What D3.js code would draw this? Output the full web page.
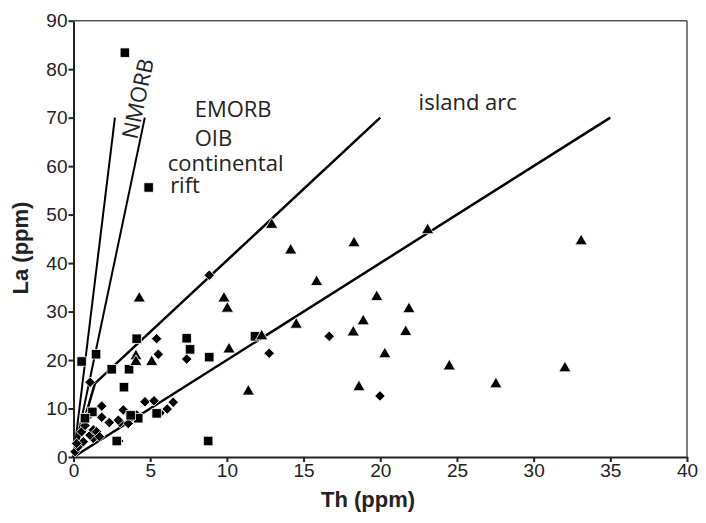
<!DOCTYPE html>
<html>
<head>
<meta charset="utf-8">
<script src="https://cdn.jsdelivr.net/npm/d3@7"></script>
<style>
  body { margin: 0; background: #fff; }
  .axis text { font-family: "Liberation Sans", Arial, sans-serif; font-size: 19px; fill: #222; }
  .note { font-family: "Open Sans", sans-serif; font-size: 22px; fill: #222; }
  .title { font-family: "Liberation Sans", Arial, sans-serif; font-weight: bold; font-size: 22px; fill: #222; }
</style>
</head>
<body>
<script>
// Th vs La (ppm) discrimination plot

// tick values
var xTicks = [0, 5, 10, 15, 20, 25, 30, 35, 40];
var yTicks = [0, 10, 20, 30, 40, 50, 60, 70, 80, 90];

// field boundary lines [Th, La]
var nmorbLeft = [[0, 0], [2.7, 70]];
var nmorbRight = [[0, 0], [4.65, 70]];
var emorbLine = [[0, 0], [1.4, 15.2], [20, 70]];
var arcLine = [[0, 0], [35, 70]];

// samples [Th, La]
var squares = [[3.35, 83.4], [4.9, 55.6], [0.53, 19.7], [1.47, 21.2], [2.49, 18.1], [4.12, 24.4],
  [3.62, 18.1], [7.38, 24.5], [7.6, 22.2], [8.85, 20.6], [11.83, 24.9], [8.78, 3.3], [3.29, 14.4],
  [2.82, 3.3], [4.22, 8.0], [3.73, 8.6], [5.42, 9.0], [1.23, 9.3], [0.75, 8.0]];

var diamonds = [[8.85, 37.5], [1.08, 15.4], [5.42, 24.4], [5.53, 21.2], [7.38, 20.2], [12.76, 21.4],
  [16.67, 24.9], [19.98, 12.6], [1.84, 10.5], [1.84, 8.2], [2.33, 7.1], [3.25, 9.7], [3.03, 7.1],
  [4.66, 11.4], [5.25, 11.6], [6.5, 11.3], [6.11, 9.9], [5.64, 9.1], [2.92, 7.6], [3.68, 8.65],
  [4.12, 8.65], [3.57, 6.9], [2.95, 3.3], [0.1, 1.1], [0.31, 2.1], [0.64, 3.15], [1.29, 3.85],
  [1.08, 4.5], [0.53, 5.2], [1.29, 5.6], [1.51, 5.2], [1.03, 8.65], [0.75, 6.5], [0.2, 2.8], [1.7, 4.2]];

var triangles = [[12.92, 47.9], [14.16, 42.6], [15.85, 36.1], [18.29, 44.1], [23.09, 46.8], [9.81, 32.7],
  [10.03, 30.6], [10.14, 22.2], [14.52, 27.3], [11.4, 13.5], [12.27, 24.9], [19.77, 33], [18.89, 28],
  [18.24, 25.7], [20.3, 21.2], [18.61, 14.4], [21.87, 30.5], [21.66, 25.8], [24.5, 18.7], [27.54, 15.0],
  [32.04, 18.3], [33.1, 44.5], [4.29, 32.7], [4.07, 20.8], [4.07, 19.6], [5.1, 19.6]];

// field labels
var notes = [
  {text: "EMORB", th: 7.9, la: 70.2},
  {text: "OIB", th: 7.9, la: 64.2},
  {text: "continental", th: 6.15, la: 59.0},
  {text: "rift", th: 6.3, la: 54.4},
  {text: "island arc", th: 22.5, la: 71.5}
];

var width = 706;
var height = 523;
var plotLeft = 73.5, plotRight = 687, plotTop = 20.7, plotBottom = 457;

var svg = d3.select("body").append("svg")
  .attr("width", width)
  .attr("height", height);

var xScale = d3.scaleLinear().domain([0, 40]).range([plotLeft, plotRight]);
var yScale = d3.scaleLinear().domain([0, 90]).range([plotBottom, plotTop]);

// frame top and right
svg.append("line")
  .attr("x1", plotLeft).attr("x2", plotRight).attr("y1", plotTop).attr("y2", plotTop)
  .attr("stroke", "#555").attr("stroke-width", 1.5);
svg.append("line")
  .attr("x1", plotRight).attr("x2", plotRight).attr("y1", plotTop).attr("y2", plotBottom)
  .attr("stroke", "#555").attr("stroke-width", 1.5);

// axes
var xAxis = d3.axisBottom(xScale).tickValues(xTicks).tickSize(5).tickSizeOuter(0).tickPadding(2);
var yAxis = d3.axisLeft(yScale).tickValues(yTicks).tickSize(5).tickSizeOuter(0).tickPadding(1);

svg.append("g").attr("class", "axis")
  .attr("transform", "translate(0," + plotBottom + ")")
  .call(xAxis);
svg.append("g").attr("class", "axis")
  .attr("transform", "translate(" + plotLeft + ",0)")
  .call(yAxis);

svg.selectAll(".axis path, .axis line").attr("stroke", "#222").attr("stroke-width", 2);

// boundary lines
var line = d3.line()
  .x(function(d) { return xScale(d[0]); })
  .y(function(d) { return yScale(d[1]); });

[nmorbLeft, nmorbRight].forEach(function(l) {
  svg.append("path").attr("d", line(l))
    .attr("fill", "none").attr("stroke", "#000").attr("stroke-width", 2);
});
[emorbLine, arcLine].forEach(function(l) {
  svg.append("path").attr("d", line(l))
    .attr("fill", "none").attr("stroke", "#000").attr("stroke-width", 2.5)
    .attr("stroke-linejoin", "round");
});

// markers
function drawMarks(data, shape, size, rot) {
  svg.append("g").selectAll("path")
    .data(data)
    .enter()
    .append("path")
    .attr("d", d3.symbol().type(shape).size(size))
    .attr("transform", function(d) {
      return "translate(" + xScale(d[0]) + "," + yScale(d[1]) + ") rotate(" + rot + ")";
    })
    .attr("fill", "#000")
    .attr("stroke", "#fff")
    .attr("stroke-width", 0.8);
}
drawMarks(diamonds, d3.symbolSquare, 55, 45);
drawMarks(squares, d3.symbolSquare, 90, 0);
drawMarks(triangles, d3.symbolTriangle, 65, 0);

// field labels
svg.selectAll(".note")
  .data(notes)
  .enter()
  .append("text")
  .attr("class", "note")
  .attr("x", function(d) { return xScale(d.th); })
  .attr("y", function(d) { return yScale(d.la); })
  .text(function(d) { return d.text; });

svg.append("text")
  .attr("class", "note")
  .attr("transform", "translate(137,140) rotate(-78)")
  .text("NMORB");

// axis titles
svg.append("text")
  .attr("class", "title")
  .attr("text-anchor", "middle")
  .attr("x", 368)
  .attr("y", 507)
  .text("Th (ppm)");

svg.append("text")
  .attr("class", "title")
  .attr("text-anchor", "middle")
  .attr("transform", "translate(28,248) rotate(-90)")
  .text("La (ppm)");
</script>
</body>
</html>
